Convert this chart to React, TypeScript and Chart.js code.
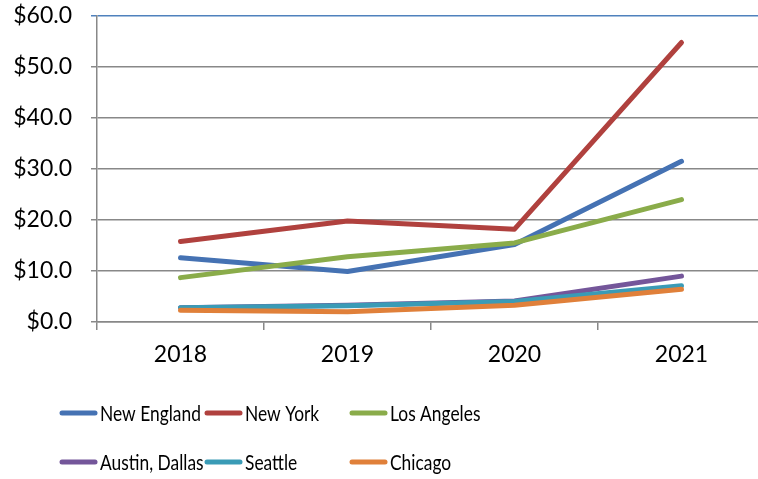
import React, { useEffect, useRef } from "react";
import { Chart, registerables } from "chart.js";

Chart.register(...registerables);

const years = ["2018", "2019", "2020", "2021"];
const seriesNames = ["New England", "New York", "Los Angeles", "Austin, Dallas", "Seattle", "Chicago"];
const newEngland = [12.6, 9.9, 15.2, 31.5];
const newYork = [15.8, 19.8, 18.2, 54.8];
const losAngeles = [8.7, 12.8, 15.5, 24.0];
const austinDallas = [2.8, 3.3, 4.1, 9.0];
const seattle = [2.8, 3.2, 4.0, 7.1];
const chicago = [2.3, 2.0, 3.3, 6.4];
const colors = ["#4572B3", "#B0413E", "#8AAC4A", "#74569A", "#3A9BB6", "#E0803A"];
const yTicks = [0, 10, 20, 30, 40, 50, 60];

const FONT = "Lato, 'Open Sans', sans-serif";

const legendPlugin = {
  id: "gridLegend",
  afterDraw(chart: any) {
    const ctx = chart.ctx;
    const cols = [60, 205, 350];
    const rows = [413, 462];
    chart.data.datasets.forEach((ds: any, i: number) => {
      const x = cols[i % 3];
      const y = rows[Math.floor(i / 3)];
      ctx.save();
      ctx.strokeStyle = ds.borderColor;
      ctx.lineWidth = 5;
      ctx.lineCap = "round";
      ctx.beginPath();
      ctx.moveTo(x + 2, y);
      ctx.lineTo(x + 35, y);
      ctx.stroke();
      ctx.translate(x + 40, y + 1);
      ctx.scale(0.79, 1);
      ctx.fillStyle = "#000";
      ctx.font = `22px ${FONT}`;
      ctx.textBaseline = "middle";
      ctx.textAlign = "left";
      ctx.fillText(ds.label, 0, 0);
      ctx.restore();
    });
  },
};

export default function App() {
  const ref = useRef<HTMLCanvasElement>(null);
  useEffect(() => {
    const values = [newEngland, newYork, losAngeles, austinDallas, seattle, chicago];
    const chart = new Chart(ref.current!, {
      type: "line",
      data: {
        labels: years,
        datasets: seriesNames.map((name, i) => ({
          label: name,
          data: values[i],
          borderColor: colors[i],
          backgroundColor: colors[i],
          borderWidth: 5,
          pointRadius: 0,
          tension: 0,
          borderCapStyle: "round" as const,
          borderJoinStyle: "round" as const,
          order: 10 - i,
        })),
      },
      options: {
        animation: false,
        responsive: false,
        maintainAspectRatio: false,
        layout: { padding: { left: 0, right: 15, top: 16, bottom: 107 } },
        plugins: { legend: { display: false }, tooltip: { enabled: false } },
        scales: {
          x: {
            offset: true,
            grid: {
              offset: true,
              drawOnChartArea: false,
              drawTicks: true,
              tickLength: 8,
              color: "#888",
              lineWidth: 1.5,
            },
            border: { display: true, color: "#888", width: 1.5 },
            ticks: { color: "#000", font: { family: FONT, size: 23 }, padding: 11 },
            afterFit(scale: any) {
              scale.height = 50;
              scale.paddingLeft = 0;
              scale.paddingRight = 0;
            },
          },
          y: {
            min: 0,
            max: 60,
            afterBuildTicks(scale: any) {
              scale.ticks = yTicks.map((v) => ({ value: v }));
            },
            grid: {
              color: (c: any) => (c.tick && c.tick.value === 60 ? "#4F81BD" : "#888"),
              lineWidth: 1.5,
              tickLength: 6,
            },
            border: { display: true, color: "#888", width: 1.5 },
            ticks: {
              color: "#000",
              font: { family: FONT, size: 23 },
              padding: 19,
              callback: (v: any) => "$" + Number(v).toFixed(1),
            },
            afterFit(scale: any) {
              scale.width = 97;
              scale.paddingTop = 0;
              scale.paddingBottom = 0;
            },
          },
        },
      },
      plugins: [legendPlugin],
    });
    return () => chart.destroy();
  }, []);
  return (
    <div style={{ position: "fixed", left: 0, top: 0, width: 758, height: 479, overflow: "hidden", background: "#fff" }}>
      <canvas ref={ref} width={780} height={479} style={{ display: "block" }} />
    </div>
  );
}
